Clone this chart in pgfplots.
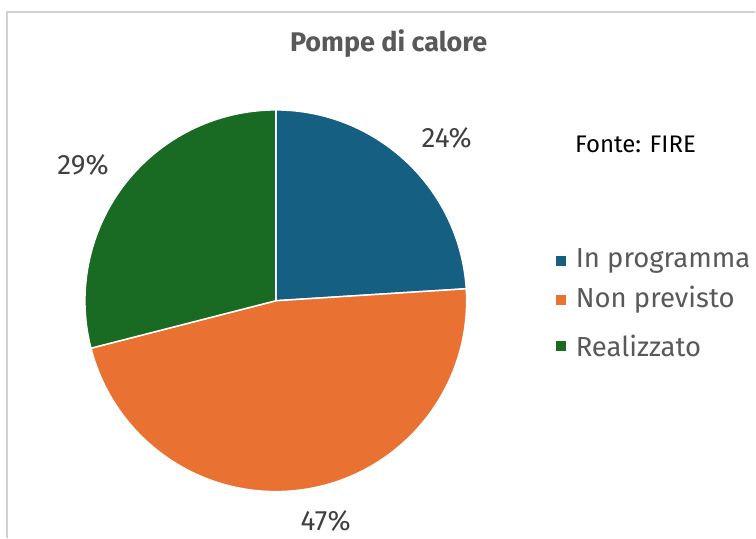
\documentclass[border=0pt]{standalone}
\usepackage{pgfplots}
\usepackage{pgfplotstable}
\pgfplotsset{compat=1.18}
\usepackage{fontspec}
\setmainfont{Fira Sans}
\definecolor{cblue}{HTML}{156082}
\definecolor{corange}{HTML}{E97132}
\definecolor{cgreen}{HTML}{196B24}
\definecolor{ctext}{HTML}{595959}
\definecolor{clab}{HTML}{404040}
\pgfplotstableread{
label value
InProgramma 24
NonPrevisto 47
Realizzato 29
}\piedata
\pgfplotstablegetelem{0}{value}\of\piedata \let\vA\pgfplotsretval
\pgfplotstablegetelem{1}{value}\of\piedata \let\vB\pgfplotsretval
\pgfplotstablegetelem{2}{value}\of\piedata \let\vC\pgfplotsretval
\pgfmathsetmacro\aA{90}
\pgfmathsetmacro\aB{\aA-\vA*3.6}
\pgfmathsetmacro\aC{\aB-\vB*3.6}
\pgfmathsetmacro\aD{\aC-\vC*3.6}
\begin{document}
\begin{tikzpicture}
\begin{axis}[x=1bp,y=1bp,xmin=0,xmax=756,ymin=0,ymax=538,hide axis,clip=false]
\fill[white] (axis cs:0,0) rectangle (axis cs:756,538);
\draw[black!18,line width=1.2bp] (axis cs:7,0) -- (axis cs:7,526) -- (axis cs:756,526);
\node[font=\fontsize{27bp}{31bp}\selectfont\bfseries,text=ctext] at (axis cs:389,494) {Pompe di calore};
\filldraw[fill=cblue,draw=white,line width=1.5bp] (axis cs:276,237) -- ++(\aA:191bp) arc[start angle=\aA,end angle=\aB,radius=191bp] -- cycle;
\filldraw[fill=corange,draw=white,line width=1.5bp] (axis cs:276,237) -- ++(\aB:191bp) arc[start angle=\aB,end angle=\aC,radius=191bp] -- cycle;
\filldraw[fill=cgreen,draw=white,line width=1.5bp] (axis cs:276,237) -- ++(\aC:191bp) arc[start angle=\aC,end angle=\aD,radius=191bp] -- cycle;
\node[font=\fontsize{28bp}{32bp}\selectfont,text=clab] at (axis cs:447,400) {\vA\%};
\node[font=\fontsize{28bp}{32bp}\selectfont,text=clab] at (axis cs:326,17) {\vB\%};
\node[font=\fontsize{28bp}{32bp}\selectfont,text=clab] at (axis cs:83,373) {\vC\%};
\node[font=\fontsize{24bp}{28bp}\selectfont,text=black] at (axis cs:636,393) {Fonte: FIRE};
\fill[cblue] (axis cs:556,272) rectangle (axis cs:566,282);
\fill[corange] (axis cs:556,233) rectangle (axis cs:566,243);
\fill[cgreen] (axis cs:556,187) rectangle (axis cs:566,197);
\node[font=\fontsize{27.5bp}{31bp}\selectfont,text=ctext,anchor=west,inner sep=0pt] at (axis cs:576,277) {In programma};
\node[font=\fontsize{27.5bp}{31bp}\selectfont,text=ctext,anchor=west,inner sep=0pt] at (axis cs:576,238) {Non previsto};
\node[font=\fontsize{27.5bp}{31bp}\selectfont,text=ctext,anchor=west,inner sep=0pt] at (axis cs:576,192) {Realizzato};
\end{axis}
\end{tikzpicture}
\end{document}
